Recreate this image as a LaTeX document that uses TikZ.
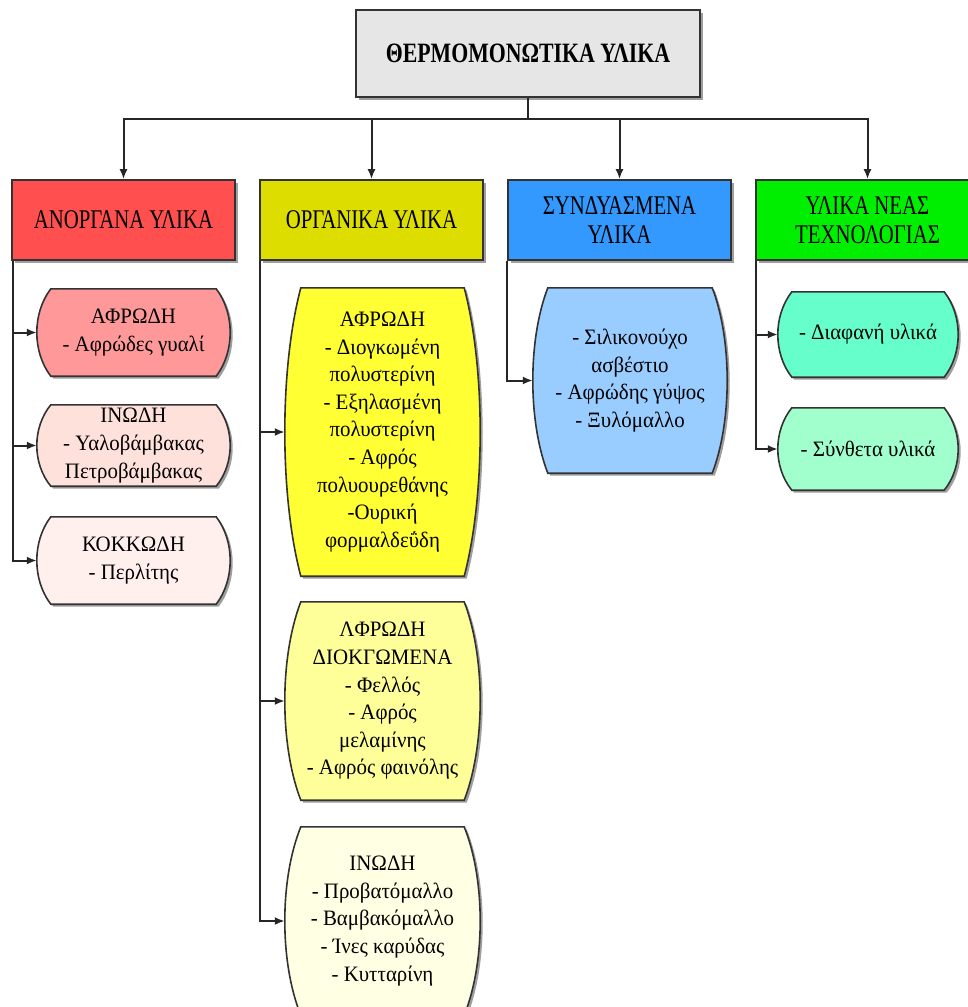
\documentclass[tikz,border=0pt]{standalone}
\usepackage{fontspec}
\setmainfont{Liberation Serif}
\newfontfamily\titlefont{Liberation Serif}[FakeStretch=0.78]
\newfontfamily\catfont{Liberation Serif}[FakeStretch=0.77]
\newfontfamily\subfont{Liberation Serif}[FakeStretch=0.95]
\usetikzlibrary{calc,shadows,arrows.meta}
\definecolor{titlefill}{HTML}{E6E6E6}
\definecolor{cred}{HTML}{FF4F4F}
\definecolor{cyel}{HTML}{DDDD00}
\definecolor{cblu}{HTML}{3399FF}
\definecolor{cgrn}{HTML}{00EE00}
\definecolor{sred1}{HTML}{FF9999}
\definecolor{sred2}{HTML}{FFE1DC}
\definecolor{sred3}{HTML}{FFF0EE}
\definecolor{syel1}{HTML}{FFFF33}
\definecolor{syel2}{HTML}{FFFF99}
\definecolor{syel3}{HTML}{FFFFE3}
\definecolor{sblu}{HTML}{99CCFF}
\definecolor{sgrn1}{HTML}{66FFCC}
\definecolor{sgrn2}{HTML}{A0FFCC}
\definecolor{edge}{HTML}{333333}
\tikzset{
  boxshadow/.style={drop shadow={shadow xshift=2.5pt,shadow yshift=-2.5pt,fill=gray!75,opacity=1}},
  titlebox/.style={draw=edge,line width=1.8pt,fill=titlefill,boxshadow,minimum width=344pt,minimum height=87pt,inner sep=0pt,font=\titlefont\bfseries\fontsize{28}{30}\selectfont},
  catbox/.style={draw=edge,line width=1.6pt,boxshadow,minimum width=223pt,minimum height=80pt,inner sep=0pt,align=center,font=\catfont\fontsize{27}{28.5}\selectfont},
  subbox/.style={inner sep=0pt,align=center,font=\subfont\fontsize{22}{27.6}\selectfont},
  conn/.style={draw=black!85,line width=2pt},
  arr/.style={conn,-{Latex[length=10pt,width=8pt]}},
  bulgeline/.style={draw=edge,line width=1.6pt,boxshadow}
}
% #1 node name, #2 fill colour, #3 bulge (pt)
\newcommand\bulgeoutline[3]{%
  \draw[bulgeline,fill=#2]
    ([xshift=#3pt]#1.north west) -- ([xshift=-#3pt]#1.north east)
    .. controls ($([xshift=#3/3 pt]#1.north east)!0.28!([xshift=#3/3 pt]#1.south east)$)
            and ($([xshift=#3/3 pt]#1.north east)!0.72!([xshift=#3/3 pt]#1.south east)$)
    .. ([xshift=-#3pt]#1.south east) -- ([xshift=#3pt]#1.south west)
    .. controls ($([xshift=-#3/3 pt]#1.south west)!0.28!([xshift=-#3/3 pt]#1.north west)$)
            and ($([xshift=-#3/3 pt]#1.south west)!0.72!([xshift=-#3/3 pt]#1.north west)$)
    .. cycle;}
\begin{document}
\begin{tikzpicture}[x=1pt,y=-1pt]
\useasboundingbox[fill=white] (0,0) rectangle (968,1007);

% top
\node[titlebox] (top) at (528,53.5) {ΘΕΡΜΟΜΟΝΩΤΙΚΑ ΥΛΙΚΑ};

% categories
\node[catbox,fill=cred] (c1) at (123.5,220) {ΑΝΟΡΓΑΝΑ ΥΛΙΚΑ};
\node[catbox,fill=cyel] (c2) at (371.5,220) {ΟΡΓΑΝΙΚΑ ΥΛΙΚΑ};
\node[catbox,fill=cblu] (c3) at (619.5,220) {ΣΥΝΔΥΑΣΜΕΝΑ\\ΥΛΙΚΑ};
\node[catbox,fill=cgrn] (c4) at (867.5,220) {ΥΛΙΚΑ ΝΕΑΣ\\ΤΕΧΝΟΛΟΓΙΑΣ};

% sub boxes (node = full extent incl. bulge)
\node[subbox,minimum width=193pt,minimum height=87pt] (s11) at (133.5,332.5) {};
\node[subbox,minimum width=193pt,minimum height=81pt] (s12) at (133.5,445.5) {};
\node[subbox,minimum width=193pt,minimum height=87pt] (s13) at (133.5,560.5) {};
\node[subbox,minimum width=195pt,minimum height=288pt] (s21) at (382.5,432) {};
\node[subbox,minimum width=195pt,minimum height=198pt] (s22) at (382.5,701) {};
\node[subbox,minimum width=195pt,minimum height=188pt] (s23) at (382.5,921) {};
\node[subbox,minimum width=194pt,minimum height=185pt] (s31) at (630,380.5) {};
\node[subbox,minimum width=180pt,minimum height=85pt] (s41) at (868,334.5) {};
\node[subbox,minimum width=180pt,minimum height=82pt] (s42) at (868,449) {};

\bulgeoutline{s11}{sred1}{14}
\bulgeoutline{s12}{sred2}{14}
\bulgeoutline{s13}{sred3}{14}
\bulgeoutline{s21}{syel1}{16}
\bulgeoutline{s22}{syel2}{16}
\bulgeoutline{s23}{syel3}{16}
\bulgeoutline{s31}{sblu}{15}
\bulgeoutline{s41}{sgrn1}{14}
\bulgeoutline{s42}{sgrn2}{14}

% texts of sub boxes
\node[subbox] at (s11) {ΑΦΡΩΔΗ\\- Αφρώδες γυαλί};
\node[subbox] at (s12) {ΙΝΩΔΗ\\- Υαλοβάμβακας\\Πετροβάμβακας};
\node[subbox] at (s13) {ΚΟΚΚΩΔΗ\\- Περλίτης};
\node[subbox] at (s21) {ΑΦΡΩΔΗ\\- Διογκωμένη\\πολυστερίνη\\- Εξηλασμένη\\πολυστερίνη\\- Αφρός\\πολυουρεθάνης\\-Ουρική\\φορμαλδεΰδη};
\node[subbox] at (s22) {ΛΦΡΩΔΗ\\ΔΙΟΚΓΩΜΕΝΑ\\- Φελλός\\- Αφρός\\μελαμίνης\\- Αφρός φαινόλης};
\node[subbox] at (s23) {ΙΝΩΔΗ\\- Προβατόμαλλο\\- Βαμβακόμαλλο\\- Ίνες καρύδας\\- Κυτταρίνη};
\node[subbox] at (s31) {- Σιλικονούχο\\ασβέστιο\\- Αφρώδης γύψος\\- Ξυλόμαλλο};
\node[subbox] at (s41) {- Διαφανή υλικά};
\node[subbox] at (s42) {- Σύνθετα υλικά};

% top connectors
\coordinate (j) at ($(top.south)+(0,21)$);
\draw[conn] (top.south) -- (j);
\draw[arr] (j) -| (c1.north);
\draw[arr] (j) -| (c2.north);
\draw[arr] (j) -| (c3.north);
\draw[arr] (j) -| (c4.north);

% branch connectors
\draw[arr] ([xshift=1.5pt]c1.south west) |- (s11.west);
\draw[arr] ([xshift=1.5pt]c1.south west) |- (s12.west);
\draw[arr] ([xshift=1.5pt]c1.south west) |- (s13.west);
\draw[arr] ([xshift=1pt]c2.south west) |- (s21.west);
\draw[arr] ([xshift=1pt]c2.south west) |- (s22.west);
\draw[arr] ([xshift=1pt]c2.south west) |- (s23.west);
\draw[arr] ([xshift=0pt]c3.south west) |- (s31.west);
\draw[arr] ([xshift=1pt]c4.south west) |- (s41.west);
\draw[arr] ([xshift=1pt]c4.south west) |- (s42.west);
\end{tikzpicture}
\end{document}
